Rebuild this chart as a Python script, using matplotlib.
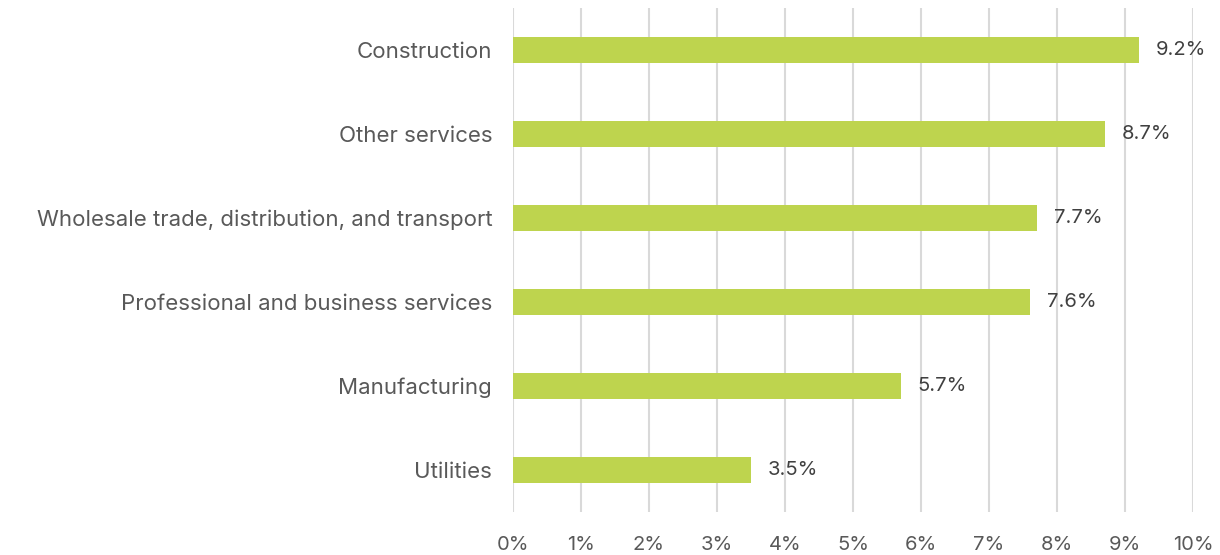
import matplotlib
matplotlib.use("Agg")
import matplotlib.pyplot as plt
from matplotlib.ticker import FuncFormatter

categories = ["Construction", "Other services", "Wholesale trade, distribution, and transport",
              "Professional and business services", "Manufacturing", "Utilities"]
values = [9.2, 8.7, 7.7, 7.6, 5.7, 3.5]
xticks = list(range(0, 11))

plt.rcParams['font.family'] = ['Inter', 'DejaVu Sans']
text_color = "#595959"
bar_color = "#BED44E"

fig = plt.figure(figsize=(12.2, 5.55), dpi=100)
ax = fig.add_axes([513/1220, 1-512/555, 680/1220, 504/555])

ypos = list(range(len(categories)))[::-1]
ax.barh(ypos, values, height=0.31, color=bar_color, zorder=3)
for y, v in zip(ypos, values):
    ax.text(v + 0.25, y, f"{v:.1f}%", va="center", ha="left", fontsize=14.5, color="#404040")

ax.set_xlim(0, 10)
ax.set_ylim(-0.5, len(categories) - 0.5)
ax.set_xticks(xticks)
ax.xaxis.set_major_formatter(FuncFormatter(lambda x, p: f"{int(x)}%"))
ax.set_yticks(ypos)
ax.set_yticklabels(categories)
ax.grid(axis="x", color="#D9D9D9", linewidth=1.5, zorder=0)
for s in ax.spines.values():
    s.set_visible(False)
ax.tick_params(axis="both", length=0, colors=text_color)
ax.tick_params(axis="x", pad=17, labelsize=14.5)
ax.tick_params(axis="y", pad=15, labelsize=16)

fig.savefig("out.png", dpi=100)
